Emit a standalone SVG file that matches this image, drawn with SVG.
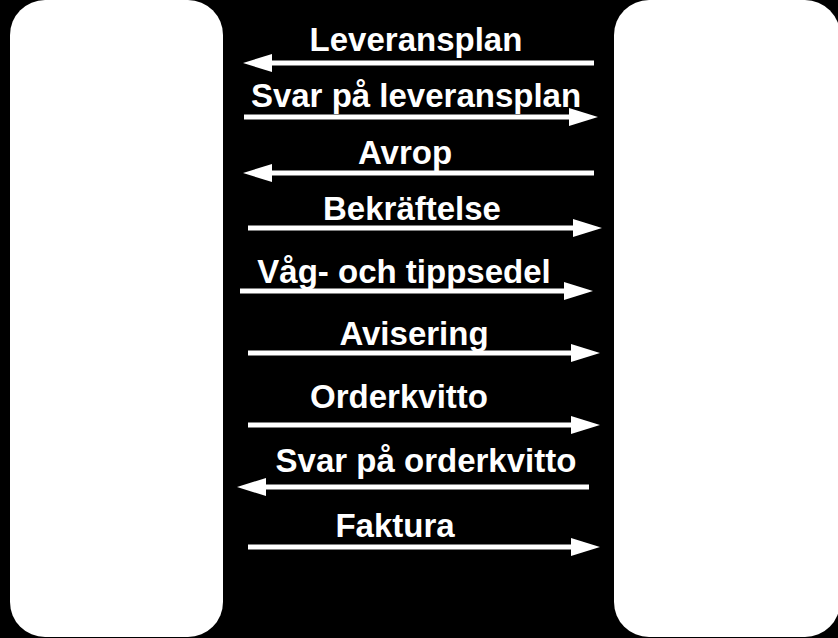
<svg xmlns="http://www.w3.org/2000/svg" width="838" height="638" viewBox="0 0 838 638">
<style>
.bg{fill:#000}
.box{fill:#fff}
.lbl{font-family:"Liberation Sans",Arial,sans-serif;font-weight:bold;font-size:33px;fill:#fff;text-anchor:middle}
.c line{stroke:#fff;stroke-width:5}
</style>
<defs>
<marker id="ah" markerUnits="userSpaceOnUse" markerWidth="30" markerHeight="20" refX="0" refY="9" orient="auto" viewBox="0 0 30 18">
<path d="M0,0 L29,9 L0,18 z" fill="#fff"/>
</marker>
</defs>
<rect class="bg" x="0" y="0" width="838" height="638"/>
<g id="left-party"><rect class="box" x="10" y="0" width="213" height="637" rx="35" ry="35"/></g>
<g id="right-party"><rect class="box" x="614" y="0" width="226" height="637" rx="35" ry="35"/></g>
<g class="c" id="connectors">
<line x1="594" y1="63" x2="272" y2="63" marker-end="url(#ah)"/>
<line x1="244" y1="117" x2="569" y2="117" marker-end="url(#ah)"/>
<line x1="594" y1="173" x2="272" y2="173" marker-end="url(#ah)"/>
<line x1="248" y1="228" x2="573" y2="228" marker-end="url(#ah)"/>
<line x1="240" y1="291" x2="564" y2="291" marker-end="url(#ah)"/>
<line x1="248" y1="353" x2="571" y2="353" marker-end="url(#ah)"/>
<line x1="248" y1="425" x2="571" y2="425" marker-end="url(#ah)"/>
<line x1="589" y1="487" x2="266" y2="487" marker-end="url(#ah)"/>
<line x1="248" y1="547" x2="571" y2="547" marker-end="url(#ah)"/>
</g>
<g id="labels">
<text class="lbl" x="416" y="51">Leveransplan</text>
<text class="lbl" x="416" y="107">Svar på leveransplan</text>
<text class="lbl" x="405" y="164">Avrop</text>
<text class="lbl" x="412" y="220">Bekräftelse</text>
<text class="lbl" x="404" y="283">Våg- och tippsedel</text>
<text class="lbl" x="414" y="345">Avisering</text>
<text class="lbl" x="399" y="408">Orderkvitto</text>
<text class="lbl" x="426" y="472">Svar på orderkvitto</text>
<text class="lbl" x="395" y="537">Faktura</text>
</g>
</svg>
